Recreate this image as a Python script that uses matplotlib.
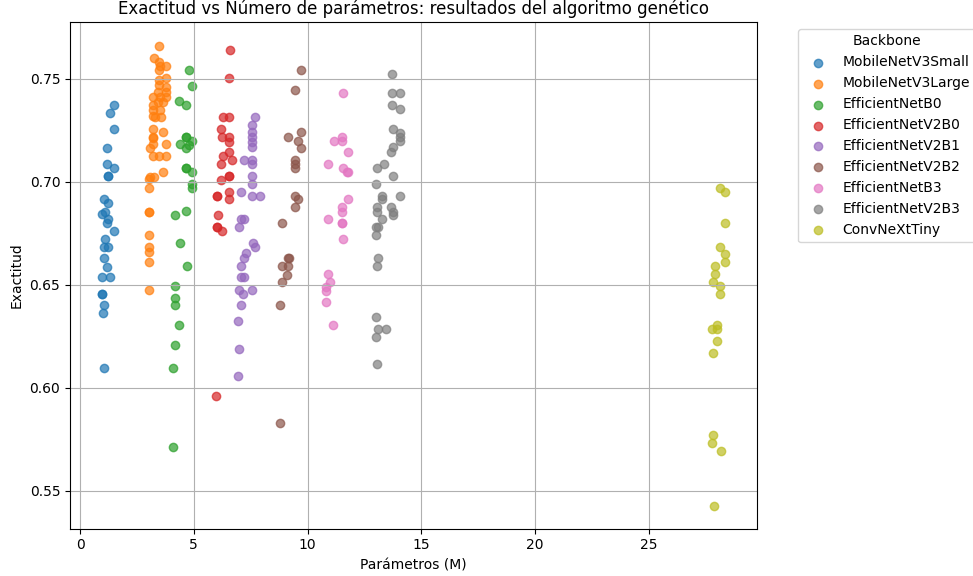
import numpy as np
import matplotlib
matplotlib.use("Agg")
import matplotlib.pyplot as plt

# Backbone names in legend order
backbones = ['MobileNetV3Small', 'MobileNetV3Large', 'EfficientNetB0', 'EfficientNetV2B0',
             'EfficientNetV2B1', 'EfficientNetV2B2', 'EfficientNetB3', 'EfficientNetV2B3',
             'ConvNeXtTiny']

# Parameters (M) and accuracy per backbone
small_params = [1.51, 1.32, 1.51, 1.17, 1.17, 1.51, 1.25, 1.25, 1.07, 1.25, 1.10, 0.98, 1.25,
                1.17, 1.51, 1.10, 1.07, 1.25, 1.07, 1.17, 0.98, 1.32, 0.95, 0.98, 1.07, 1.03, 1.07]
small_acc = [0.7372, 0.7335, 0.7257, 0.7165, 0.7087, 0.7068, 0.7029, 0.7029, 0.6917, 0.6898,
             0.6856, 0.6845, 0.6820, 0.6800, 0.6762, 0.6722, 0.6683, 0.6683, 0.6630, 0.6589,
             0.6537, 0.6537, 0.6456, 0.6456, 0.6403, 0.6363, 0.6097]

large_params = [3.47, 3.27, 3.47, 3.77, 3.52, 3.47, 3.77, 3.47, 3.47, 3.77, 3.77, 3.44, 3.22,
                3.52, 3.77, 3.66, 3.44, 3.22, 3.52, 3.22, 3.22, 3.30, 3.55, 3.22, 3.63, 3.22,
                3.19, 3.77, 3.08, 3.22, 3.19, 3.47, 3.77, 3.63, 3.08, 3.25, 3.05, 3.05, 3.05,
                3.05, 3.05, 3.05, 3.05, 3.05]
large_acc = [0.7660, 0.7602, 0.7580, 0.7563, 0.7563, 0.7544, 0.7506, 0.7495, 0.7471, 0.7463,
             0.7438, 0.7438, 0.7414, 0.7414, 0.7414, 0.7390, 0.7390, 0.7374, 0.7350, 0.7350,
             0.7320, 0.7314, 0.7314, 0.7257, 0.7240, 0.7220, 0.7212, 0.7183, 0.7164, 0.7183,
             0.7126, 0.7126, 0.7126, 0.7049, 0.7026, 0.7026, 0.7013, 0.6971, 0.6856, 0.6856,
             0.6741, 0.6683, 0.6662, 0.6610]
large_params += [3.05]
large_acc += [0.6474]

b0_params = [4.79, 4.94, 4.35, 4.67, 4.67, 4.67, 4.40, 4.94, 4.67, 4.79, 4.67, 4.67, 4.94,
             4.94, 4.94, 4.67, 4.18, 4.40, 4.69, 4.18, 4.18, 4.18, 4.35, 4.18, 4.10, 4.10]
b0_acc = [0.7542, 0.7466, 0.7393, 0.7372, 0.7220, 0.7220, 0.7184, 0.7200, 0.7164, 0.7180,
          0.7069, 0.7069, 0.7049, 0.6990, 0.6971, 0.6858, 0.6838, 0.6704, 0.6591, 0.6495,
          0.6435, 0.6403, 0.6304, 0.6207, 0.6096, 0.5712]

v2b0_params = [6.59, 6.55, 6.27, 6.56, 6.20, 6.25, 6.56, 6.56, 6.56, 6.56, 6.30, 6.70, 6.20,
               6.56, 6.20, 6.04, 6.04, 6.56, 6.56, 6.08, 6.04, 6.04, 6.23, 5.98]
v2b0_acc = [0.7639, 0.7503, 0.7314, 0.7314, 0.7257, 0.7217, 0.7217, 0.7196, 0.7144, 0.7029,
            0.7126, 0.7107, 0.7086, 0.7029, 0.7010, 0.6932, 0.6932, 0.6950, 0.6916, 0.6840,
            0.6783, 0.6783, 0.6762, 0.5960]

v2b1_params = [7.71, 7.58, 7.58, 7.58, 7.58, 7.58, 7.22, 7.58, 7.58, 7.58, 7.58, 7.06, 7.58,
               7.90, 7.06, 7.22, 7.00, 7.62, 7.71, 7.30, 7.22, 7.06, 7.06, 7.22, 7.00, 7.15,
               7.58, 7.06, 6.96, 7.00, 6.96]
v2b1_acc = [0.7314, 0.7277, 0.7240, 0.7220, 0.7196, 0.7171, 0.7107, 0.7107, 0.7086, 0.7029,
            0.6990, 0.6950, 0.6932, 0.6932, 0.6820, 0.6820, 0.6783, 0.6705, 0.6683, 0.6654,
            0.6630, 0.6591, 0.6537, 0.6537, 0.6474, 0.6456, 0.6474, 0.6403, 0.6324, 0.6188,
            0.6057]

v2b2_params = [9.71, 9.45, 9.16, 9.71, 9.60, 9.71, 9.45, 9.45, 9.45, 9.45, 9.60, 9.45, 8.89,
               9.13, 9.20, 8.89, 9.13, 9.10, 8.89, 8.80, 8.80]
v2b2_acc = [0.7542, 0.7445, 0.7217, 0.7240, 0.7200, 0.7164, 0.7107, 0.7086, 0.7069, 0.6932,
            0.6916, 0.6877, 0.6802, 0.6630, 0.6630, 0.6591, 0.6591, 0.6549, 0.6515, 0.6403,
            0.5829]

b3_params = [11.58, 11.16, 11.53, 11.53, 11.80, 10.92, 11.58, 11.72, 11.80, 11.80, 11.53,
             11.53, 10.92, 11.53, 11.53, 11.58, 10.92, 10.99, 10.81, 10.81, 10.81, 11.14]
b3_acc = [0.7432, 0.7199, 0.7220, 0.7199, 0.7146, 0.7086, 0.7069, 0.7050, 0.7050, 0.6916,
          0.6877, 0.6856, 0.6820, 0.6800, 0.6800, 0.6722, 0.6552, 0.6513, 0.6492, 0.6472,
          0.6416, 0.6306]

v2b3_params = [13.70, 13.70, 14.07, 13.70, 14.07, 13.77, 14.07, 14.07, 14.07, 13.77, 13.68,
               13.07, 13.36, 13.77, 13.00, 13.29, 13.29, 14.07, 13.07, 13.07, 13.68, 13.77,
               13.77, 13.29, 13.00, 13.11, 13.00, 13.11, 13.07, 13.00, 13.11, 13.44, 13.00,
               13.05]
v2b3_acc = [0.7524, 0.7432, 0.7432, 0.7372, 0.7353, 0.7257, 0.7236, 0.7217, 0.7199, 0.7168,
            0.7146, 0.7069, 0.7086, 0.7029, 0.6990, 0.6934, 0.6916, 0.6932, 0.6877, 0.6856,
            0.6877, 0.6856, 0.6838, 0.6820, 0.6783, 0.6783, 0.6743, 0.6630, 0.6591, 0.6343,
            0.6286, 0.6286, 0.6249, 0.6117]

convnext_params = [28.13, 28.37, 28.37, 28.13, 28.37, 28.37, 27.93, 27.93, 27.84, 28.13, 28.13,
                   27.98, 27.80, 27.98, 27.98, 27.84, 27.84, 27.80, 28.19, 27.85]
convnext_acc = [0.6971, 0.6950, 0.6800, 0.6684, 0.6650, 0.6612, 0.6592, 0.6553, 0.6515, 0.6497,
                0.6455, 0.6306, 0.6285, 0.6285, 0.6228, 0.6171, 0.5772, 0.5732, 0.5694, 0.5425]

params = [small_params, large_params, b0_params, v2b0_params, v2b1_params, v2b2_params,
          b3_params, v2b3_params, convnext_params]
accs = [small_acc, large_acc, b0_acc, v2b0_acc, v2b1_acc, v2b2_acc, b3_acc, v2b3_acc,
        convnext_acc]

fig, ax = plt.subplots(figsize=(9.73, 5.76), dpi=100)
for name, xs, ys in zip(backbones, params, accs):
    ax.scatter(xs, ys, label=name, alpha=0.7)

ax.set_title('Exactitud vs Número de parámetros: resultados del algoritmo genético')
ax.set_xlabel('Parámetros (M)')
ax.set_ylabel('Exactitud')
ax.set_xlim(-0.44, 29.76)
ax.set_ylim(0.5316, 0.7777)
ax.set_yticks([0.55, 0.60, 0.65, 0.70, 0.75])
ax.grid(True)
ax.legend(title='Backbone', bbox_to_anchor=(1.05, 1), loc='upper left')

fig.subplots_adjust(left=0.072, right=0.778, top=0.962, bottom=0.082)
fig.savefig('out.png')
